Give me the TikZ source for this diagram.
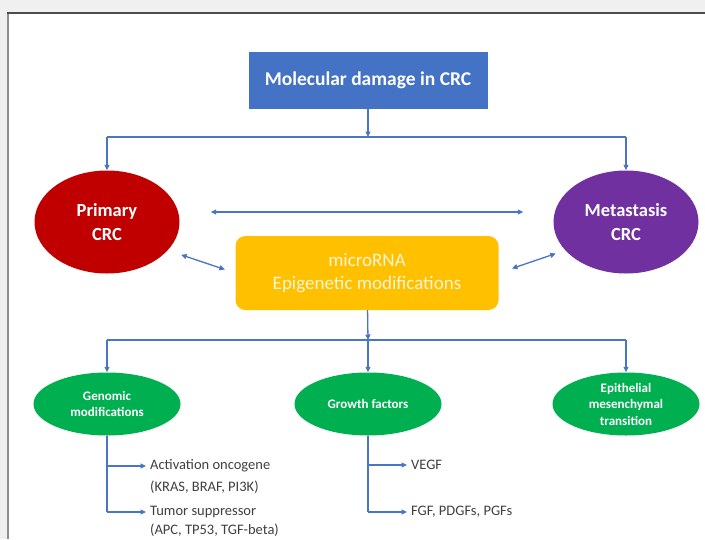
\documentclass[tikz,border=0pt]{standalone}
\usepackage{fontspec}
\setmainfont{Carlito}
\usepackage{xcolor}
\definecolor{crcFrame}{HTML}{F0F0F0}
\definecolor{crcBlue}{HTML}{4472C4}
\definecolor{crcLink}{HTML}{4A74C4}
\definecolor{crcRed}{HTML}{C00000}
\definecolor{crcPurple}{HTML}{7030A0}
\definecolor{crcYellow}{HTML}{FFC000}
\definecolor{crcCream}{HTML}{FFF4D6}
\definecolor{crcGreen}{HTML}{00B050}
\definecolor{crcText}{HTML}{404040}
\usetikzlibrary{arrows.meta,positioning,shapes.geometric}

\begin{document}
\begin{tikzpicture}[x=1pt, y=-1pt, >={Triangle[length=5.5pt,width=5pt]},
  link/.style={->, crcLink, line width=1.3pt},
  dlink/.style={<->, crcLink, line width=1.3pt},
  bus/.style={crcLink, line width=1.3pt},
  bigblob/.style={ellipse, inner sep=0pt, minimum width=145pt, minimum height=103pt,
    text=white, align=center, font=\fontsize{18.5}{24}\selectfont\bfseries},
  smallblob/.style={ellipse, fill=crcGreen, inner sep=0pt, minimum width=147pt,
    minimum height=63pt, text=white, align=center, font=\fontsize{13}{16.5}\selectfont\bfseries},
  item/.style={inner sep=0pt, text=crcText, font=\fontsize{14.5}{17}\selectfont}]
  \useasboundingbox (0,0) rectangle (705,539);
  % ---- frame ----
  \fill[crcFrame] (0,0) rectangle (705,539);
  \fill[white] (8,13) rectangle (705,539);
  \draw[black!45, line width=2pt] (7.5,13) -- (7.5,539);
  \draw[black!70, line width=1.5pt] (7,13) -- (705,13);

  % ---- top ----
  \node[fill=crcBlue, minimum width=239pt, minimum height=57pt, text=white,
    font=\fontsize{19.5}{22}\selectfont\bfseries] (damage) at (368,80.5) {Molecular damage in CRC};
  \node[bigblob, fill=crcRed] (primary) at (107,222) {Primary\\CRC};
  \node[bigblob, fill=crcPurple] (meta) at (626,222) {Metastasis\\CRC};
  \node[fill=crcYellow, rounded corners=10pt, minimum width=263pt, minimum height=74pt,
    text=crcCream, align=center, font=\fontsize{19}{22.5}\selectfont] (mirna) at (367,273)
    {microRNA\\Epigenetic modifications};

  \coordinate (busA) at (368,137);
  \draw[link] (damage) -- (busA);
  \draw[bus] (primary |- busA) -- (meta |- busA);
  \draw[link] (primary |- busA) -- (primary);
  \draw[link] (meta |- busA) -- (meta);

  \draw[dlink, shorten <=31pt, shorten >=30pt] ([yshift=10pt]primary.east) -- ([yshift=10pt]meta.west);
  \draw[dlink, shorten <=14pt, shorten >=11pt] (primary.-25) -- (mirna.west);
  \draw[dlink, shorten <=14pt, shorten >=10pt] (mirna.east) -- (meta.205);

  % ---- bottom ----
  \node[smallblob] (genomic) at (107,404) {Genomic\\modifications};
  \node[smallblob] (growth) at (368,404) {Growth factors};
  \node[smallblob] (emt) at (626,404) {Epithelial\\mesenchymal\\transition};

  \coordinate (busB) at (368,340);
  \draw[link] (mirna) -- (busB);
  \draw[bus] (genomic |- busB) -- (emt |- busB);
  \foreach \n in {genomic, growth, emt}
    \draw[link] (\n |- busB) -- (\n);

  % ---- lists ----
  \node[item, anchor=west] (onco) at (150,466) {Activation oncogene};
  \node[item, below=8pt of onco.south west, anchor=north west] (oncogenes) {(KRAS, BRAF, PI3K)};
  \node[item, anchor=west] (supp) at (150,512) {Tumor suppressor};
  \node[item, below=6pt of supp.south west, anchor=north west] (suppgenes) {(APC, TP53, TGF-beta)};
  \node[item, anchor=west] (vegf) at (411,465) {VEGF};
  \node[item, anchor=west] (fgf) at (411,512) {FGF, PDGFs, PGFs};

  \draw[bus] (genomic.south) -- (genomic.south |- supp.west);
  \draw[link, shorten >=4pt] (genomic.south |- onco.west) -- (onco.west);
  \draw[link, shorten >=4pt] (genomic.south |- supp.west) -- (supp.west);
  \draw[bus] (growth.south) -- (growth.south |- fgf.west);
  \draw[link, shorten >=4pt] (growth.south |- vegf.west) -- (vegf.west);
  \draw[link, shorten >=4pt] (growth.south |- fgf.west) -- (fgf.west);
\end{tikzpicture}
\end{document}
